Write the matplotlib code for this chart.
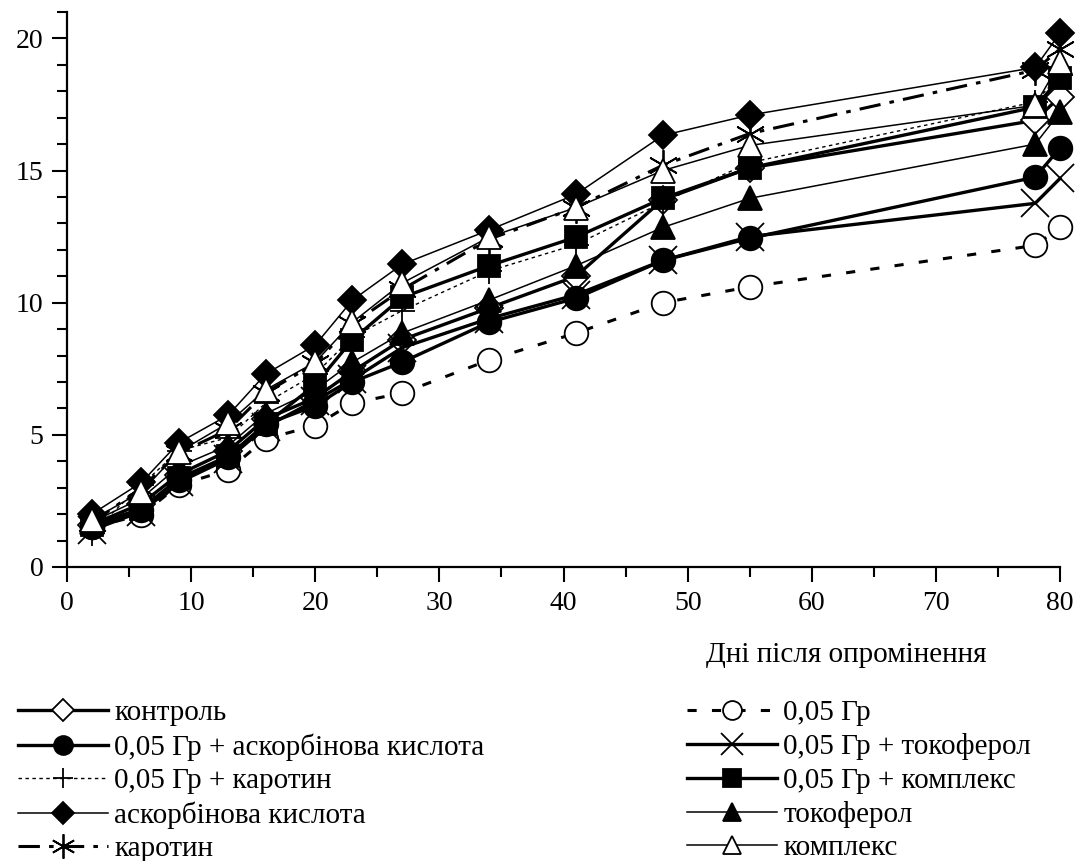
import matplotlib
matplotlib.use("Agg")
import matplotlib.pyplot as plt
from matplotlib.ticker import MultipleLocator

plt.rcParams["font.family"] = ["Liberation Serif", "DejaVu Serif"]

days = [2, 6, 9, 13, 16, 20, 23, 27, 34, 41, 48, 55, 78, 80]

control = [1.6, 2.4, 3.5, 4.4, 5.6, 6.4, 7.4, 8.6, 9.8, 11.0, 13.9, 15.1, 16.9, 17.8]
dose = [1.5, 1.97, 3.1, 3.67, 4.85, 5.35, 6.2, 6.58, 7.83, 8.85, 10.0, 10.6, 12.17, 12.85]
dose_ascorb = [1.5, 2.15, 3.3, 4.16, 5.4, 6.1, 7.0, 7.75, 9.26, 10.17, 11.6, 12.44, 14.75, 15.85]
dose_tocoph = [1.4, 2.1, 3.2, 4.1, 5.3, 6.3, 7.1, 8.3, 9.4, 10.3, 11.6, 12.5, 13.76, 14.7]
dose_carot = [1.3, 3.1, 4.4, 4.9, 6.2, 7.3, 8.7, 9.7, 11.2, 12.2, 13.8, 15.3, 17.6, 18.6]
dose_complex = [1.6, 2.2, 3.35, 4.2, 5.4, 6.9, 8.6, 10.2, 11.4, 12.48, 13.95, 15.1, 17.4, 18.5]
ascorb = [2.0, 3.2, 4.7, 5.75, 7.3, 8.4, 10.1, 11.45, 12.75, 14.1, 16.33, 17.1, 18.9, 20.2]
tocoph = [1.7, 2.6, 3.8, 4.6, 5.8, 6.7, 7.75, 8.85, 10.1, 11.4, 12.85, 13.95, 16.0, 17.2]
carot = [1.66, 3.0, 4.3, 5.2, 6.6, 7.7, 9.2, 10.5, 12.4, 13.6, 15.2, 16.4, 18.8, 19.6]
complex_ = [1.78, 2.85, 4.35, 5.45, 6.7, 7.75, 9.26, 10.74, 12.48, 13.6, 15.0, 15.95, 17.47, 19.1]

labels = [
    "контроль", "0,05 Гр",
    "0,05 Гр + аскорбінова кислота", "0,05 Гр + токоферол",
    "0,05 Гр + каротин", "0,05 Гр + комплекс",
    "аскорбінова кислота", "токоферол",
    "каротин", "комплекс",
]
series = [control, dose, dose_ascorb, dose_tocoph, dose_carot, dose_complex,
          ascorb, tocoph, carot, complex_]

# line style, line width, marker, marker size, face colour
styles = [
    ("-", 2.4, "D", 14, "white"),
    ((0, (3, 5)), 2.2, "o", 17, "white"),
    ("-", 2.4, "o", 17, "black"),
    ("-", 2.4, "x", 20, "black"),
    ((0, (2.5, 2.5)), 1.0, "+", 18, "black"),
    ("-", 2.4, "s", 16, "black"),
    ("-", 1.1, "D", 14, "black"),
    ("-", 1.1, "^", 17, "black"),
    ((0, (7, 3, 1.5, 3)), 2.2, (6, 2, 0), 22, "black"),
    ("-", 1.1, "^", 17, "white"),
]

fig = plt.figure(figsize=(10.78, 8.61), dpi=100)
ax = fig.add_axes([67 / 1078, 294 / 861, 993 / 1078, 555 / 861])

handles = []
for vals, lab, (ls, lw, mk, ms, fc) in zip(series, labels, styles):
    h, = ax.plot(days, vals, linestyle=ls, linewidth=lw, color="black",
                 marker=mk, markersize=ms, markerfacecolor=fc,
                 markeredgecolor="black", markeredgewidth=1.3,
                 clip_on=False, label=lab)
    handles.append(h)

ax.set_xlim(0, 80)
ax.set_ylim(0, 21)
ax.xaxis.set_major_locator(MultipleLocator(10))
ax.xaxis.set_minor_locator(MultipleLocator(5))
ax.yaxis.set_major_locator(MultipleLocator(5))
ax.yaxis.set_minor_locator(MultipleLocator(1))
for s in ["top", "right"]:
    ax.spines[s].set_visible(False)
for s in ["left", "bottom"]:
    ax.spines[s].set_linewidth(1.6)
ax.tick_params(which="major", direction="out", length=11, width=1.5,
               labelsize=20, pad=6)
ax.tick_params(which="minor", direction="out", length=7, width=1.5)

fig.text(846 / 1078, 1 - 655 / 861, "Дні після опромінення",
         ha="center", va="center", fontsize=21)

left = [handles[i] for i in (0, 2, 4, 6, 8)]
right = [handles[i] for i in (1, 3, 5, 7, 9)]
kw = dict(frameon=False, fontsize=21, handlelength=3.1, handletextpad=0.2,
          labelspacing=0.24, borderpad=0, borderaxespad=0, loc="upper left",
          markerscale=0.8)
leg1 = fig.legend(handles=left, bbox_to_anchor=(18 / 1078, 1 - 700 / 861), **kw)
leg2 = fig.legend(handles=right, bbox_to_anchor=(687 / 1078, 1 - 700 / 861), **kw)

fig.savefig("out.png", dpi=100)
